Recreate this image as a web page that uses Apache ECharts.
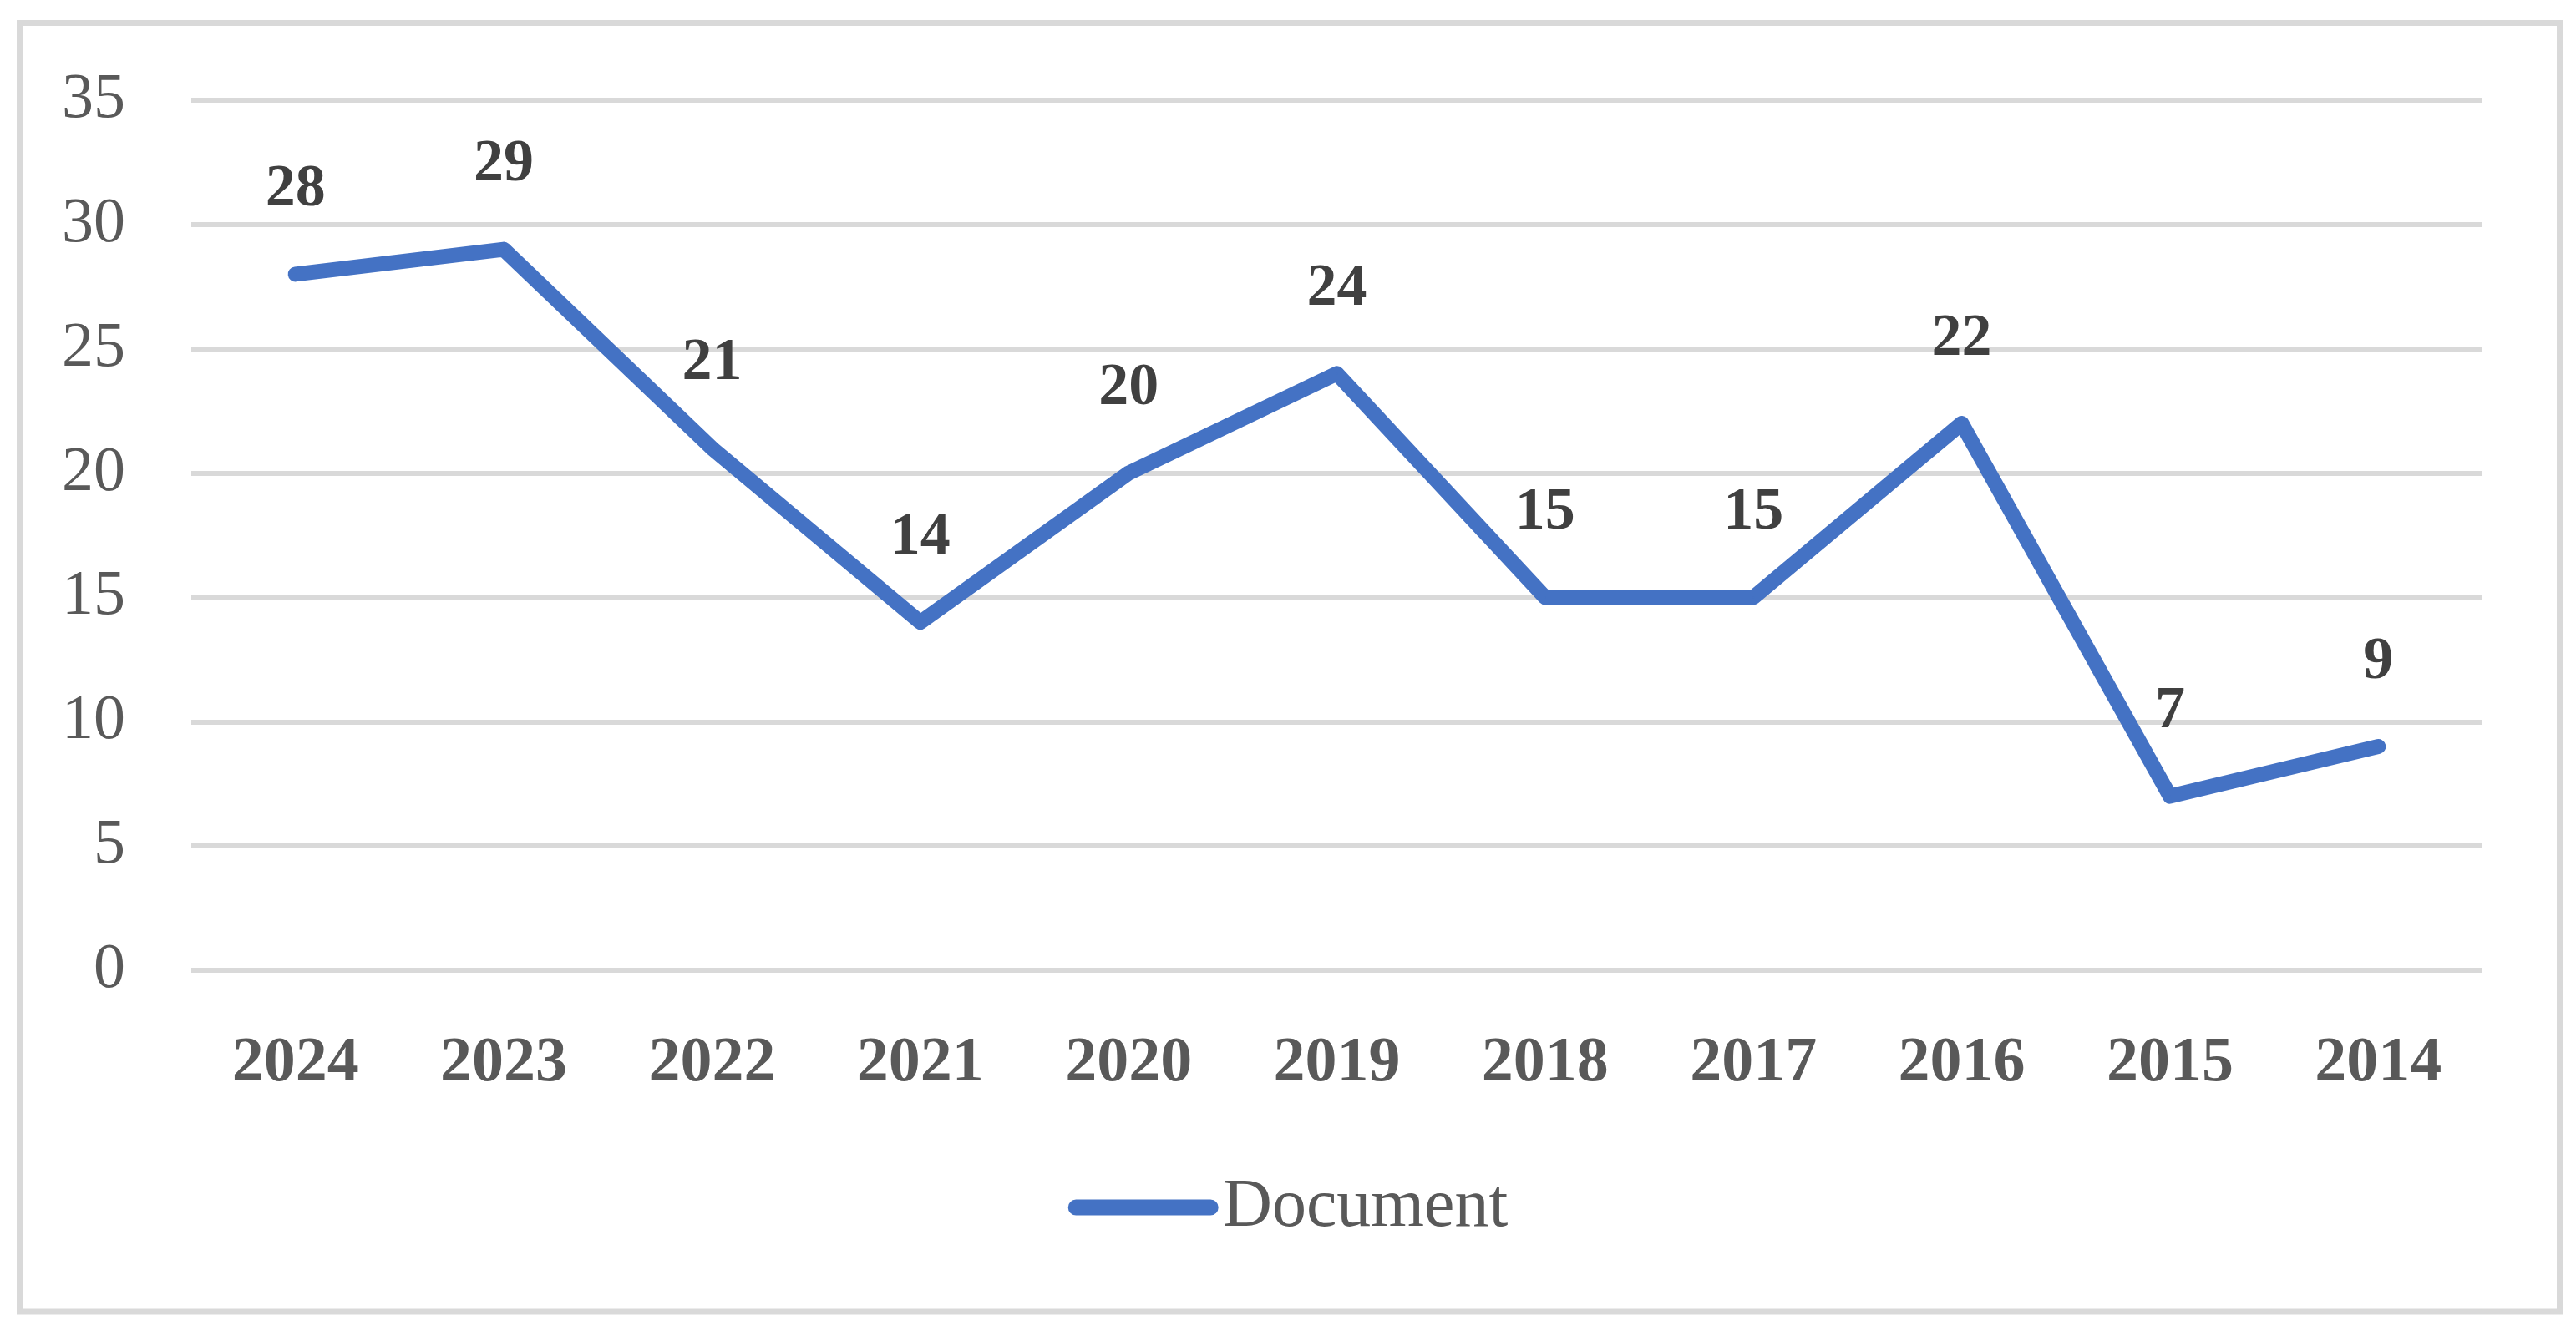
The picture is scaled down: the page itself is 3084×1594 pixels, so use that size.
<!DOCTYPE html>
<html>
<head>
<meta charset="utf-8">
<script src="https://cdn.jsdelivr.net/npm/echarts@6/dist/echarts.min.js"></script>
<style>
  html, body { margin: 0; padding: 0; background: #fff; }
  #chart { width: 3084px; height: 1594px; }
</style>
</head>
<body>
<div id="chart"></div>
<script>
// years, newest first as in the source chart
const years = ["2024", "2023", "2022", "2021", "2020", "2019", "2018", "2017", "2016", "2015", "2014"];
// number of documents per year
const documents = [28, 29, 21, 14, 20, 24, 15, 15, 22, 7, 9];
const seriesName = "Document";

const serif = "'Liberation Serif', 'DejaVu Serif', serif";

let chart = echarts.init(document.getElementById("chart"));
let option = {
  backgroundColor: "#fff",
  animation: false,
  graphic: [
    {
      // outer frame
      type: "rect",
      shape: { x: 23.5, y: 27.5, width: 3041, height: 1543.5 },
      style: { fill: "none", stroke: "#d9d9d9", lineWidth: 7 },
      silent: true,
    },
  ],
  grid: {
    left: 229,
    right: 112,
    top: 120,
    bottom: 432,
  },
  xAxis: {
    type: "category",
    data: years,
    boundaryGap: true,
    axisLine: { show: false },
    axisTick: { show: false },
    axisLabel: {
      margin: 74,
      fontFamily: serif,
      fontSize: 76,
      fontWeight: "bold",
      color: "#595959",
    },
  },
  yAxis: {
    type: "value",
    min: 0,
    max: 35,
    interval: 5,
    axisLine: { show: false },
    axisTick: { show: false },
    axisLabel: {
      margin: 79,
      fontFamily: serif,
      fontSize: 76,
      color: "#595959",
    },
    splitLine: {
      lineStyle: { color: "#d9d9d9", width: 6 },
    },
  },
  legend: {
    left: "center",
    top: 1400,
    itemWidth: 180,
    itemHeight: 19,
    icon: "path://M9.5,0 L170.5,0 A9.5,9.5 0 0 1 170.5,19 L9.5,19 A9.5,9.5 0 0 1 9.5,0 Z",
    textStyle: {
      fontFamily: serif,
      fontSize: 82,
      color: "#595959",
    },
    data: [seriesName],
  },
  series: [
    {
      name: seriesName,
      type: "line",
      data: documents,
      // tiny symbol hidden under the line so the value labels are drawn
      symbol: "circle",
      symbolSize: 2,
      showSymbol: true,
      itemStyle: { color: "#4472c4" },
      lineStyle: { color: "#4472c4", width: 18, cap: "round", join: "round" },
      label: {
        show: true,
        position: "top",
        distance: 64,
        fontFamily: serif,
        fontSize: 72,
        fontWeight: "bold",
        color: "#404040",
      },
    },
  ],
};
chart.setOption(option);
</script>
</body>
</html>
